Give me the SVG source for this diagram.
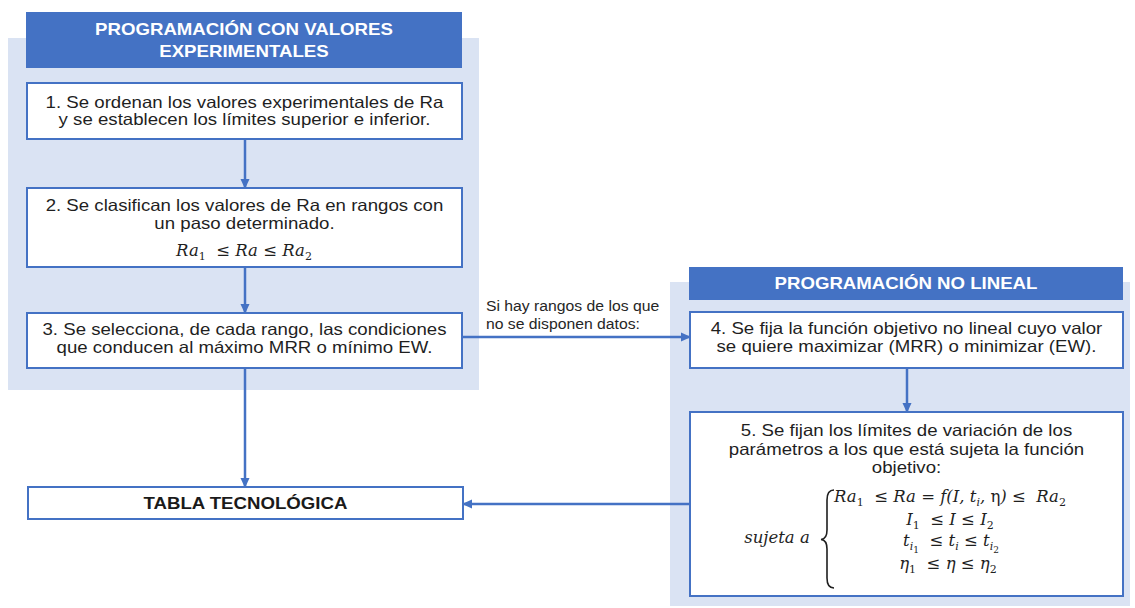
<svg xmlns="http://www.w3.org/2000/svg" width="1135" height="608" viewBox="0 0 1135 608">
<defs>
<style>
.bg{fill:#dae3f3}
.hdr{fill:#4472c4}
.box{fill:#ffffff;stroke:#4472c4;stroke-width:2}
.ht{font-family:"Liberation Sans",Arial,sans-serif;font-size:16.5px;font-weight:bold;fill:#ffffff;text-anchor:middle}
.t{font-family:"Liberation Sans",Arial,sans-serif;font-size:16.5px;fill:#1f1f1f;text-anchor:middle}
.tb{font-family:"Liberation Sans",Arial,sans-serif;font-size:16.5px;font-weight:bold;fill:#1a1a1a;text-anchor:middle}
.s{transform:scaleX(1.13);transform-box:fill-box;transform-origin:center}
.lbl{font-family:"Liberation Sans",Arial,sans-serif;font-size:15px;fill:#262626;transform:scaleX(1.05);transform-box:fill-box;transform-origin:left}
.m{font-family:"DejaVu Serif","Liberation Serif",serif;font-style:italic;font-size:16.5px;fill:#1f1f1f;text-anchor:middle}
.sub{font-size:11px;font-style:normal}
.up{font-style:normal}
.brace{fill:none;stroke:#1f1f1f;stroke-width:1.6}
.conn{stroke:#4472c4;stroke-width:2.5;fill:none}
</style>
<marker id="ah" markerUnits="userSpaceOnUse" markerWidth="10" markerHeight="10" refX="9" refY="5" orient="auto"><path d="M0,0.5 L10,5 L0,9.5 z" fill="#4472c4"/></marker>
</defs>
<rect width="1135" height="608" fill="#ffffff"/>

<g id="panel-experimental">
<rect class="bg" x="8" y="38" width="471" height="352"/>
<rect class="hdr" x="26" y="12" width="436" height="56"/>
<text class="ht s" x="244" y="35">PROGRAMACIÓN CON VALORES</text>
<text class="ht s" x="244" y="57.5">EXPERIMENTALES</text>
</g>

<g id="panel-nolineal">
<rect class="bg" x="670" y="282" width="460" height="324"/>
<rect class="hdr" x="689" y="267" width="434" height="33"/>
<text class="ht s" x="906" y="289">PROGRAMACIÓN NO LINEAL</text>
</g>

<g id="connectors">
<line class="conn" x1="245" y1="139" x2="245" y2="188" marker-end="url(#ah)"/>
<line class="conn" x1="245" y1="267" x2="245" y2="313" marker-end="url(#ah)"/>
<line class="conn" x1="245" y1="368" x2="245" y2="487" marker-end="url(#ah)"/>
<line class="conn" x1="462" y1="337" x2="690" y2="337" marker-end="url(#ah)"/>
<line class="conn" x1="907" y1="368" x2="907" y2="412" marker-end="url(#ah)"/>
<line class="conn" x1="690" y1="504" x2="463" y2="504" marker-end="url(#ah)"/>
<text class="lbl" x="486" y="311">Si hay rangos de los que</text>
<text class="lbl" x="486" y="329">no se disponen datos:</text>
</g>

<g id="node1">
<rect class="box" x="27" y="83" width="435" height="56"/>
<text class="t s" x="244.5" y="108">1. Se ordenan los valores experimentales de Ra</text>
<text class="t s" x="244.5" y="125.5">y se establecen los límites superior e inferior.</text>
</g>

<g id="node2">
<rect class="box" x="27" y="188" width="435" height="79"/>
<text class="t s" x="244.5" y="211">2. Se clasifican los valores de Ra en rangos con</text>
<text class="t s" x="244.5" y="229.5">un paso determinado.</text>
<text class="m" x="244" y="256">Ra<tspan class="sub" dy="4">1</tspan><tspan dy="-4">&#160;&#160;≤ Ra ≤ Ra</tspan><tspan class="sub" dy="4">2</tspan></text>
</g>

<g id="node3">
<rect class="box" x="27" y="313" width="435" height="55"/>
<text class="t s" x="244.5" y="335">3. Se selecciona, de cada rango, las condiciones</text>
<text class="t s" x="244.5" y="353">que conducen al máximo MRR o mínimo EW.</text>
</g>

<g id="node-tabla">
<rect class="box" x="28" y="487" width="435" height="32"/>
<text class="tb s" x="245.5" y="509">TABLA TECNOLÓGICA</text>
</g>

<g id="node4">
<rect class="box" x="690" y="312" width="433" height="56"/>
<text class="t s" x="906.5" y="334.5">4. Se fija la función objetivo no lineal cuyo valor</text>
<text class="t s" x="906.5" y="352.5">se quiere maximizar (MRR) o minimizar (EW).</text>
</g>

<g id="node5">
<rect class="box" x="690" y="412" width="433" height="184"/>
<text class="t s" x="906.5" y="436">5. Se fijan los límites de variación de los</text>
<text class="t s" x="906.5" y="455">parámetros a los que está sujeta la función</text>
<text class="t s" x="906.5" y="473">objetivo:</text>
<text class="m" x="777" y="543">sujeta a</text>
<path class="brace" d="M834,490 Q827,490 827,500 L827,530 Q827,539 821,539.5 Q827,540 827,549 L827,578 Q827,588 834,588"/>
<text class="m" x="950" y="502">Ra<tspan class="sub" dy="4">1</tspan><tspan dy="-4">&#160;&#160;≤ Ra = f(I, t</tspan><tspan class="sub" style="font-style:italic" dy="4">i</tspan><tspan dy="-4">, </tspan><tspan class="up">η</tspan><tspan>) ≤ &#160;Ra</tspan><tspan class="sub" dy="4">2</tspan></text>
<text class="m" x="950" y="525">I<tspan class="sub" dy="4">1</tspan><tspan dy="-4">&#160;&#160;≤ I ≤ I</tspan><tspan class="sub" dy="4">2</tspan></text>
<text class="m" x="951" y="546">t<tspan class="sub" style="font-style:italic" dy="4">i</tspan><tspan class="sub" style="font-size:9px" dy="3">1</tspan><tspan dy="-7">&#160;&#160;≤ t</tspan><tspan class="sub" style="font-style:italic" dy="4">i</tspan><tspan dy="-4"> ≤ t</tspan><tspan class="sub" style="font-style:italic" dy="4">i</tspan><tspan class="sub" style="font-size:9px" dy="3">2</tspan></text>
<text class="m" x="948" y="569">η<tspan class="sub" dy="4">1</tspan><tspan dy="-4">&#160;&#160;≤ η ≤ η</tspan><tspan class="sub" dy="4">2</tspan></text>
</g>
</svg>
